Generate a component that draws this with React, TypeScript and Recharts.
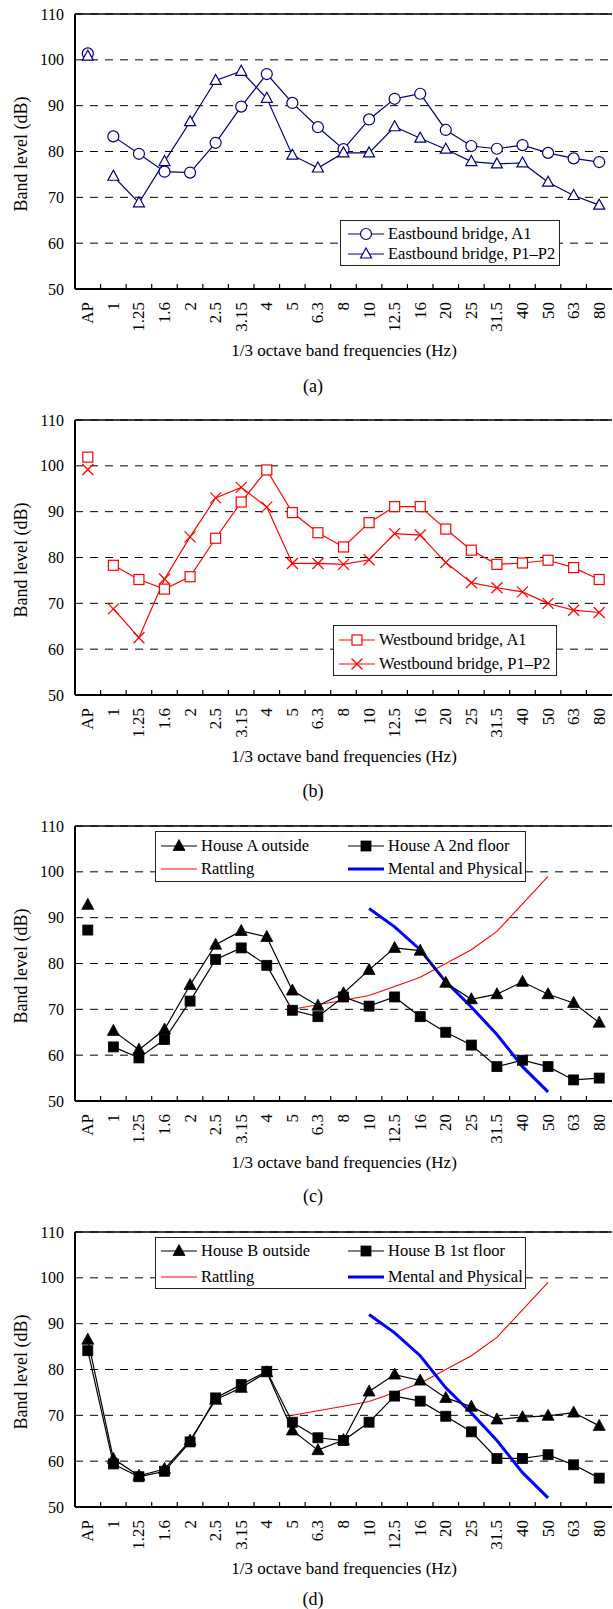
import React from "react";
import { LineChart, Line, XAxis, YAxis, CartesianGrid, ReferenceLine } from "recharts";

const FREQS = ["AP", "1", "1.25", "1.6", "2", "2.5", "3.15", "4", "5", "6.3", "8", "10", "12.5", "16", "20", "25", "31.5", "40", "50", "63", "80"];
const Y_TICKS = [50, 60, 70, 80, 90, 100, 110];

const EAST_A1 = [101.4, 83.3, 79.5, 75.6, 75.4, 81.9, 89.8, 96.9, 90.6, 85.3, 80.5, 87.0, 91.5, 92.6, 84.7, 81.2, 80.6, 81.4, 79.7, 78.5, 77.7];
const EAST_P1P2 = [100.8, 74.6, 68.8, 77.8, 86.5, 95.5, 97.5, 91.6, 79.2, 76.4, 79.7, 79.7, 85.4, 82.9, 80.5, 77.8, 77.3, 77.5, 73.3, 70.4, 68.3];
const WEST_A1 = [101.9, 78.3, 75.2, 73.1, 75.8, 84.2, 92.1, 99.1, 89.8, 85.4, 82.3, 87.6, 91.1, 91.1, 86.2, 81.6, 78.5, 78.8, 79.4, 77.8, 75.2];
const WEST_P1P2 = [99.2, 68.8, 62.5, 75.3, 84.5, 93.0, 95.3, 91.0, 78.7, 78.7, 78.5, 79.5, 85.2, 84.9, 78.9, 74.5, 73.4, 72.5, 70.0, 68.5, 68.0];
const HOUSE_A_OUT = [92.8, 65.3, 61.2, 65.6, 75.3, 84.1, 87.1, 85.8, 74.1, 70.8, 73.5, 78.6, 83.4, 82.8, 75.8, 72.2, 73.3, 76.0, 73.3, 71.4, 67.1];
const HOUSE_A_2ND = [87.3, 61.8, 59.4, 63.4, 71.8, 80.9, 83.4, 79.6, 69.8, 68.4, 72.7, 70.7, 72.7, 68.4, 65.0, 62.2, 57.5, 58.9, 57.5, 54.6, 55.0];
const HOUSE_B_OUT = [86.5, 60.5, 56.8, 58.3, 64.5, 73.4, 76.0, 79.4, 66.7, 62.4, 64.6, 75.2, 78.9, 77.6, 73.8, 71.9, 69.1, 69.6, 69.9, 70.6, 67.7];
const HOUSE_B_1ST = [84.1, 59.4, 56.6, 57.8, 64.2, 73.8, 76.7, 79.6, 68.5, 65.1, 64.5, 68.5, 74.2, 73.1, 69.8, 66.4, 60.6, 60.6, 61.4, 59.2, 56.3];
const RATTLING = [null, null, null, null, null, null, null, null, 70, 71, 72, 73, 75, 77, 80, 83, 87, 93, 99, null, null];
const MENTAL = [null, null, null, null, null, null, null, null, null, null, null, 92, 88, 83, 76, 70.5, 64.5, 57.5, 52, null, null];

const FONT = "Liberation Serif, Times New Roman, serif";
const NAVY = "#000080";
const RED = "#ff0000";
const BLUE = "#0000ff";
const W = 613;
const H = 406;
const HALF = 12.8;

// rows for one panel; keys in splitAP get their AP value moved to a separate key so it stays unconnected
function buildRows(series: Record<string, (number | null)[]>, splitAP: string[]) {
  return FREQS.map((f, i) => {
    const row: any = { f };
    Object.keys(series).forEach((k) => {
      const v = series[k][i];
      if (splitAP.includes(k)) {
        row[k] = i === 0 ? null : v;
        row[k + "AP"] = i === 0 ? v : null;
      } else {
        row[k] = v;
      }
    });
    return row;
  });
}

type Shape = "circle" | "tri" | "square" | "x" | "ftri" | "fsquare";

function Glyph({ shape, cx, cy, color }: { shape: Shape; cx: number; cy: number; color: string }) {
  const sw = 1.2;
  switch (shape) {
    case "circle":
      return <circle cx={cx} cy={cy} r={5.5} fill="#fff" stroke={color} strokeWidth={sw} />;
    case "tri":
      return <polygon points={`${cx},${cy - 6} ${cx - 5.5},${cy + 4} ${cx + 5.5},${cy + 4}`} fill="#fff" stroke={color} strokeWidth={sw} />;
    case "square":
      return <rect x={cx - 5} y={cy - 5} width={10} height={10} fill="#fff" stroke={color} strokeWidth={sw} />;
    case "x":
      return (
        <g stroke={color} strokeWidth={sw}>
          <line x1={cx - 5.5} y1={cy - 5.5} x2={cx + 5.5} y2={cy + 5.5} />
          <line x1={cx - 5.5} y1={cy + 5.5} x2={cx + 5.5} y2={cy - 5.5} />
        </g>
      );
    case "ftri":
      return <polygon points={`${cx},${cy - 6.5} ${cx - 6},${cy + 4.5} ${cx + 6},${cy + 4.5}`} fill={color} stroke={color} strokeWidth={0.8} />;
    default:
      return <rect x={cx - 5} y={cy - 5} width={10} height={10} fill={color} stroke={color} strokeWidth={0.8} />;
  }
}

const dotFn = (shape: Shape, color: string) => (p: any) => {
  if (p.value == null || p.cy == null || p.cx == null) return <g key={`e${p.index}`} />;
  return (
    <g key={`d${p.index}`}>
      <Glyph shape={shape} cx={p.cx} cy={p.cy} color={color} />
    </g>
  );
};

const XTick = (props: any) => {
  const { x, y, payload, index } = props;
  return (
    <g>
      {index > 0 && <line x1={x - HALF} x2={x - HALF} y1={y} y2={y - 5} stroke="#000" strokeWidth={1.2} />}
      <text
        x={x}
        y={y + 13}
        transform={`rotate(-90 ${x} ${y + 13})`}
        textAnchor="end"
        dominantBaseline="central"
        fontSize={17}
        style={{ fontFamily: FONT }}
        fill="#000"
      >
        {payload.value}
      </text>
    </g>
  );
};

const YTick = (props: any) => {
  const { x, y, payload } = props;
  return (
    <text x={x - 11} y={y} textAnchor="end" dominantBaseline="central" fontSize={16} style={{ fontFamily: FONT }} fill="#000">
      {payload.value}
    </text>
  );
};

interface SeriesDef {
  key: string;
  color: string;
  width: number;
  shape?: Shape;
  splitAP?: boolean;
}

interface LegendItem {
  x: number;
  y: number;
  text: string;
  color: string;
  width: number;
  shape?: Shape;
}

function LegendBox({ box, items }: { box: { left: number; top: number; width: number; height: number }; items: LegendItem[] }) {
  return (
    <div
      style={{
        position: "absolute",
        left: box.left,
        top: box.top,
        width: box.width,
        height: box.height,
        border: "1.3px solid #222",
        background: "#fff",
        boxSizing: "border-box",
        fontFamily: FONT,
        fontSize: 16.5,
        color: "#000",
      }}
    >
      {items.map((it) => (
        <React.Fragment key={it.text}>
          <svg style={{ position: "absolute", left: it.x, top: it.y - 8 }} width={36} height={16}>
            <line x1={0} x2={36} y1={8} y2={8} stroke={it.color} strokeWidth={it.width} />
            {it.shape && <Glyph shape={it.shape} cx={18} cy={8} color={it.color} />}
          </svg>
          <div style={{ position: "absolute", left: it.x + 40, top: it.y, transform: "translateY(-50%)", whiteSpace: "nowrap", lineHeight: 1 }}>
            {it.text}
          </div>
        </React.Fragment>
      ))}
    </div>
  );
}

const textStyle = (left: number, top: number, size: number, rotate = false): React.CSSProperties => ({
  position: "absolute",
  left,
  top,
  transform: rotate ? "translate(-50%, -50%) rotate(-90deg)" : "translate(-50%, -50%)",
  whiteSpace: "nowrap",
  fontFamily: FONT,
  fontSize: size,
  lineHeight: 1,
});

function Panel({ top, rows, series, label, labelY, legend }: { top: number; rows: any[]; series: SeriesDef[]; label: string; labelY: number; legend: React.ReactNode }) {
  return (
    <div style={{ position: "absolute", left: 0, top, width: W, height: H }}>
      <LineChart width={W} height={H} data={rows} margin={{ top: 14, right: 1, bottom: 0, left: 0 }}>
        <CartesianGrid vertical={false} stroke="#000" strokeDasharray="8 7" strokeWidth={1} />
        <XAxis
          dataKey="f"
          type="category"
          interval={0}
          height={117}
          padding={{ left: HALF, right: HALF }}
          tickSize={0}
          tickMargin={0}
          tickLine={false}
          tick={<XTick />}
          axisLine={{ stroke: "#000", strokeWidth: 2 }}
        />
        <YAxis
          type="number"
          domain={[50, 110]}
          ticks={Y_TICKS}
          interval={0}
          width={75}
          tickSize={0}
          tickMargin={0}
          tickLine={false}
          tick={<YTick />}
          axisLine={{ stroke: "#000", strokeWidth: 2 }}
        />
        <YAxis yAxisId="r" orientation="right" width={0} domain={[50, 110]} tick={false} tickLine={false} axisLine={{ stroke: "#000", strokeWidth: 1.3 }} />
        <ReferenceLine y={110} stroke="#000" strokeWidth={1.5} />
        {series.map((s) => (
          <Line
            key={s.key}
            dataKey={s.key}
            stroke={s.color}
            strokeWidth={s.width}
            dot={s.shape ? dotFn(s.shape, s.color) : false}
            activeDot={false}
            connectNulls={false}
            isAnimationActive={false}
          />
        ))}
        {series
          .filter((s) => s.splitAP)
          .map((s) => (
            <Line
              key={s.key + "AP"}
              dataKey={s.key + "AP"}
              stroke="none"
              dot={dotFn(s.shape as Shape, s.color)}
              activeDot={false}
              isAnimationActive={false}
            />
          ))}
      </LineChart>
      <div style={textStyle(20.5, 154, 18, true)}>Band level (dB)</div>
      <div style={textStyle(344, 350, 17)}>1/3 octave band frequencies (Hz)</div>
      <div style={textStyle(313, labelY, 18)}>{label}</div>
      {legend}
    </div>
  );
}

const rowsA = buildRows({ a1: EAST_A1, p12: EAST_P1P2 }, ["a1", "p12"]);
const rowsB = buildRows({ a1: WEST_A1, p12: WEST_P1P2 }, ["a1", "p12"]);
const rowsC = buildRows({ out: HOUSE_A_OUT, fl: HOUSE_A_2ND, rat: RATTLING, men: MENTAL }, ["out", "fl"]);
const rowsD = buildRows({ out: HOUSE_B_OUT, fl: HOUSE_B_1ST, rat: RATTLING, men: MENTAL }, []);

const houseSeries = (split: boolean): SeriesDef[] => [
  { key: "rat", color: RED, width: 1.1 },
  { key: "men", color: BLUE, width: 3 },
  { key: "out", color: "#000", width: 1.2, shape: "ftri", splitAP: split },
  { key: "fl", color: "#000", width: 1.2, shape: "fsquare", splitAP: split },
];

const houseLegend = (out: string, fl: string, top: number, height: number, r1: number, r2: number) => (
  <LegendBox
    box={{ left: 155, top, width: 371, height }}
    items={[
      { x: 5, y: r1, text: out, color: "#000", width: 1.2, shape: "ftri" },
      { x: 192, y: r1, text: fl, color: "#000", width: 1.2, shape: "fsquare" },
      { x: 5, y: r2, text: "Rattling", color: RED, width: 1.1 },
      { x: 192, y: r2, text: "Mental and Physical", color: BLUE, width: 3 },
    ]}
  />
);

export default function App() {
  return (
    <div style={{ position: "absolute", left: 0, top: 0, width: W, height: 1609, overflow: "hidden", background: "#fff" }}>
      <Panel
        top={0}
        rows={rowsA}
        label="(a)"
        labelY={386}
        series={[
          { key: "a1", color: NAVY, width: 1.2, shape: "circle", splitAP: true },
          { key: "p12", color: NAVY, width: 1.2, shape: "tri", splitAP: true },
        ]}
        legend={
          <LegendBox
            box={{ left: 340, top: 220, width: 220, height: 46 }}
            items={[
              { x: 7, y: 13, text: "Eastbound bridge, A1", color: NAVY, width: 1.2, shape: "circle" },
              { x: 7, y: 33, text: "Eastbound bridge, P1–P2", color: NAVY, width: 1.2, shape: "tri" },
            ]}
          />
        }
      />
      <Panel
        top={406}
        rows={rowsB}
        label="(b)"
        labelY={385}
        series={[
          { key: "a1", color: RED, width: 1.2, shape: "square", splitAP: true },
          { key: "p12", color: RED, width: 1.2, shape: "x", splitAP: true },
        ]}
        legend={
          <LegendBox
            box={{ left: 333, top: 219, width: 224, height: 51 }}
            items={[
              { x: 5, y: 14, text: "Westbound bridge, A1", color: RED, width: 1.2, shape: "square" },
              { x: 5, y: 38, text: "Westbound bridge, P1–P2", color: RED, width: 1.2, shape: "x" },
            ]}
          />
        }
      />
      <Panel top={812} rows={rowsC} label="(c)" labelY={384} series={houseSeries(true)} legend={houseLegend("House A outside", "House A 2nd floor", 19, 51, 14, 37)} />
      <Panel top={1218} rows={rowsD} label="(d)" labelY={381} series={houseSeries(false)} legend={houseLegend("House B outside", "House B 1st floor", 19, 52, 13, 39)} />
    </div>
  );
}
